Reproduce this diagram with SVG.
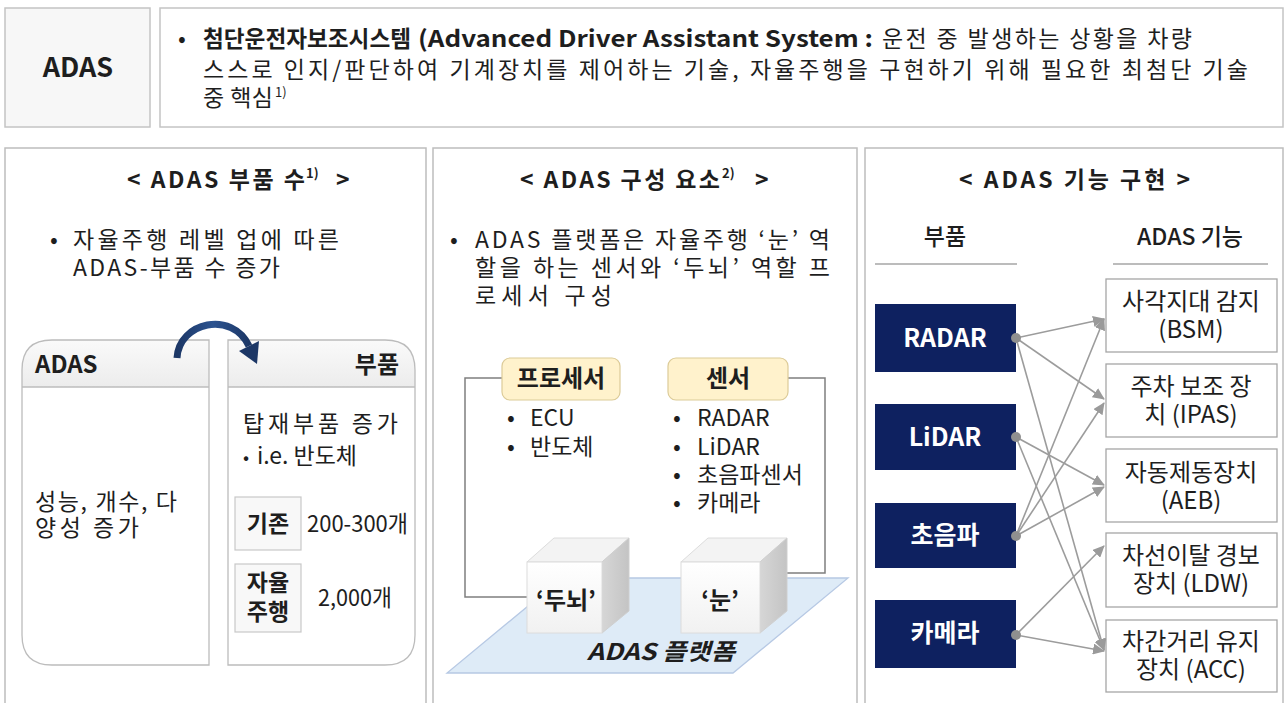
<svg xmlns="http://www.w3.org/2000/svg" width="1287" height="703" viewBox="0 0 1287 703">
  <defs>
    <style>
      text { font-family: 'Noto Sans CJK KR', 'Noto Sans', sans-serif; fill: #1e1e1e; font-size: 23px; }
      .b { font-weight: 700; }
      .m { font-weight: 500; }
      .sup { font-size: 13px; }
      .panel { fill: #ffffff; stroke: #bdbdbd; stroke-width: 1.5; }
      .hbox { stroke: #c4c4c4; stroke-width: 1.5; }
      .rbox { fill: none; stroke: #bcbcbc; stroke-width: 1.3; }
      .sep { stroke: #bcbcbc; stroke-width: 1.3; }
      .kbox { fill: #f8f8f8; stroke: #c8c8c8; stroke-width: 1.2; }
      .tag { fill: #fff2cc; stroke: #dccb98; stroke-width: 1.2; }
      .frame { fill: none; stroke: #7f7f7f; stroke-width: 1.5; }
      .navy { fill: #0e2160; }
      .navy-t { fill: #ffffff; font-weight: 700; font-size: 25px; }
      .fbox { fill: #ffffff; stroke: #a6a6a6; stroke-width: 1.3; }
      .ft { font-size: 24px; }
      .rule { stroke: #a6a6a6; stroke-width: 1.3; }
      .conn { stroke: #9c9c9c; stroke-width: 1.6; fill: none; marker-end: url(#ah); }
      .dot { fill: #8f8f8f; }
    </style>
    <marker id="ah" markerWidth="13" markerHeight="11" refX="11" refY="5.5" orient="auto" markerUnits="userSpaceOnUse">
      <path d="M0,0 L12,5.5 L0,11 z" fill="#9a9a9a"/>
    </marker>
    <linearGradient id="hdr" x1="0" y1="0" x2="0" y2="1">
      <stop offset="0" stop-color="#fafafa"/>
      <stop offset="1" stop-color="#ececec"/>
    </linearGradient>
    <linearGradient id="side" x1="0" y1="0" x2="1" y2="0">
      <stop offset="0" stop-color="#d6d6d6"/>
      <stop offset="1" stop-color="#c4c4c4"/>
    </linearGradient>
    <linearGradient id="front" x1="0" y1="0" x2="0" y2="1">
      <stop offset="0" stop-color="#ffffff"/>
      <stop offset="1" stop-color="#f1f1f1"/>
    </linearGradient>
    <linearGradient id="curl" x1="0" y1="0" x2="1" y2="0">
      <stop offset="0" stop-color="#1c3766"/>
      <stop offset="0.5" stop-color="#2c5390"/>
      <stop offset="1" stop-color="#1c3766"/>
    </linearGradient>
  </defs>

  <rect x="0" y="0" width="1287" height="703" fill="#ffffff"/>

  <!-- header: term and definition -->
  <g id="term">
    <rect class="hbox" x="5" y="8" width="145" height="119" fill="#f7f7f7"/>
    <text class="b" x="78" y="77" text-anchor="middle" style="font-size:27px">ADAS</text>
  </g>
  <g id="definition">
    <rect class="hbox" x="160" y="8" width="1123" height="119" fill="#ffffff"/>
    <text x="178" y="47">•</text>
    <text class="b" x="203" y="47" textLength="208" lengthAdjust="spacingAndGlyphs">첨단운전자보조시스템</text>
    <text class="b" x="418" y="47" textLength="455" lengthAdjust="spacingAndGlyphs">(Advanced Driver Assistant System :</text>
    <text x="882" y="47" textLength="310" lengthAdjust="spacing">운전 중 발생하는 상황을 차량</text>
    <text x="203" y="78" textLength="1045" lengthAdjust="spacing">스스로 인지/판단하여 기계장치를 제어하는 기술, 자율주행을 구현하기 위해 필요한 최첨단 기술</text>
    <text x="203" y="106" textLength="70" lengthAdjust="spacing">중 핵심</text>
    <text class="sup" x="275" y="97">1)</text>
  </g>

  <!-- panel 1: part counts -->
  <g id="panel-parts">
    <rect class="panel" x="5" y="148" width="421" height="570"/>
    <text class="b" x="127" y="188" textLength="178" lengthAdjust="spacing">&lt; ADAS 부품 수</text>
    <text class="b sup" x="306" y="178">1)</text>
    <text class="b" x="336" y="188">&gt;</text>
    <text x="50" y="248">•</text>
    <text x="73" y="248" textLength="266" lengthAdjust="spacing">자율주행 레벨 업에 따른</text>
    <text x="73" y="276" textLength="207" lengthAdjust="spacing">ADAS-부품 수 증가</text>
  </g>

  <g id="adas-card">
    <path d="M22,387 V370 Q22,340 52,340 H209 V387 Z" fill="url(#hdr)"/>
    <path class="rbox" d="M209,340 H52 Q22,340 22,370 V635 Q22,665 52,665 H209 Z"/>
    <line class="sep" x1="22" y1="387" x2="209" y2="387"/>
    <text class="b" x="35" y="373" style="font-size:24px">ADAS</text>
    <text x="35" y="510" textLength="142" lengthAdjust="spacing">성능, 개수, 다</text>
    <text x="35" y="536" textLength="104" lengthAdjust="spacing">양성 증가</text>
  </g>

  <g id="parts-card">
    <path d="M228,387 V340 H385 Q415,340 415,370 V387 Z" fill="url(#hdr)"/>
    <path class="rbox" d="M228,340 H385 Q415,340 415,370 V635 Q415,665 385,665 H228 Z"/>
    <line class="sep" x1="228" y1="387" x2="415" y2="387"/>
    <text class="b" x="399" y="373" text-anchor="end" style="font-size:24px">부품</text>
    <text x="243" y="432" textLength="155" lengthAdjust="spacing">탑재부품 증가</text>
    <text x="243" y="464" style="font-size:18px">•</text>
    <text x="257" y="464" textLength="100" lengthAdjust="spacing">i.e. 반도체</text>
    <rect class="kbox" x="235" y="497" width="66" height="53"/>
    <text class="b" x="268" y="532" text-anchor="middle">기존</text>
    <text x="307" y="532" textLength="101" lengthAdjust="spacingAndGlyphs">200-300개</text>
    <rect class="kbox" x="235" y="564" width="66" height="68"/>
    <text class="b" x="268" y="591" text-anchor="middle">자율</text>
    <text class="b" x="268" y="620" text-anchor="middle">주행</text>
    <text x="318" y="606" textLength="74" lengthAdjust="spacingAndGlyphs">2,000개</text>
  </g>

  <!-- curved arrow from ADAS card to parts card -->
  <g id="growth-arrow">
    <path d="M177,358 C179,322 232,310 249,346" fill="none" stroke="url(#curl)" stroke-width="7" stroke-linecap="butt"/>
    <path d="M239,351 L259,341 L257,364 Z" fill="#1c3766"/>
  </g>

  <!-- panel 2: components -->
  <g id="panel-components">
    <rect class="panel" x="433" y="148" width="424" height="570"/>
    <text class="b" x="520" y="188" textLength="200" lengthAdjust="spacing">&lt; ADAS 구성 요소</text>
    <text class="b sup" x="722" y="178">2)</text>
    <text class="b" x="755" y="188">&gt;</text>
    <text x="450" y="248">•</text>
    <text x="475" y="248" textLength="355" lengthAdjust="spacing">ADAS 플랫폼은 자율주행 ‘눈’ 역</text>
    <text x="475" y="276" textLength="355" lengthAdjust="spacing">할을 하는 센서와 ‘두뇌’ 역할 프</text>
    <text x="475" y="304" textLength="137" lengthAdjust="spacing">로세서 구성</text>
  </g>

  <g id="platform">
    <polygon points="562,578 848,578 733,673 447,673" fill="#deebf7" stroke="#b7c9e4" stroke-width="1.3"/>
    <text class="b" x="661" y="660" text-anchor="middle" textLength="148" lengthAdjust="spacingAndGlyphs" style="font-style:italic">ADAS 플랫폼</text>
  </g>

  <g id="brackets">
    <path class="frame" d="M502,378 H465 V597 H530"/>
    <path class="frame" d="M788,378 H825 V573 H785"/>
  </g>

  <g id="processor">
    <rect class="tag" x="502" y="358" width="118" height="42" rx="8"/>
    <text class="b" x="561" y="387" text-anchor="middle" style="font-size:24px">프로세서</text>
    <text x="507" y="426">•</text>
    <text x="530" y="426">ECU</text>
    <text x="507" y="455">•</text>
    <text x="530" y="455">반도체</text>
  </g>

  <g id="sensor">
    <rect class="tag" x="668" y="358" width="120" height="42" rx="8"/>
    <text class="b" x="728" y="387" text-anchor="middle" style="font-size:24px">센서</text>
    <text x="673" y="426">•</text>
    <text x="697" y="426">RADAR</text>
    <text x="673" y="455">•</text>
    <text x="697" y="455">LiDAR</text>
    <text x="673" y="483">•</text>
    <text x="697" y="483">초음파센서</text>
    <text x="673" y="511">•</text>
    <text x="697" y="511">카메라</text>
  </g>

  <g id="cube-brain">
    <polygon points="527,562 554,538 629,538 602,562" fill="#f3f3f3" stroke="#dcdcdc"/>
    <polygon points="602,562 629,538 629,611 602,633" fill="url(#side)" stroke="#cfcfcf"/>
    <rect x="527" y="562" width="75" height="71" fill="url(#front)" stroke="#dcdcdc"/>
    <text class="b" x="566" y="609" text-anchor="middle" style="font-size:24px">‘두뇌’</text>
  </g>

  <g id="cube-eye">
    <polygon points="681,562 708,538 787,538 760,562" fill="#f3f3f3" stroke="#dcdcdc"/>
    <polygon points="760,562 787,538 787,611 760,633" fill="url(#side)" stroke="#cfcfcf"/>
    <rect x="681" y="562" width="79" height="71" fill="url(#front)" stroke="#dcdcdc"/>
    <text class="b" x="720" y="609" text-anchor="middle" style="font-size:24px">‘눈’</text>
  </g>

  <!-- panel 3: functions -->
  <g id="panel-functions">
    <rect class="panel" x="865" y="148" width="418" height="570"/>
    <text class="b" x="959" y="188" textLength="231" lengthAdjust="spacing">&lt; ADAS 기능 구현 &gt;</text>
    <text class="m" x="945" y="245" text-anchor="middle">부품</text>
    <text class="m" x="1190" y="245" text-anchor="middle">ADAS 기능</text>
    <line class="rule" x1="875" y1="264" x2="1017" y2="264"/>
    <line class="rule" x1="1113" y1="264" x2="1268" y2="264"/>
  </g>

  <g id="radar">
    <rect class="navy" x="875" y="304" width="141" height="68"/>
    <text class="navy-t" x="945" y="347" text-anchor="middle">RADAR</text>
  </g>
  <g id="lidar">
    <rect class="navy" x="875" y="404" width="141" height="66"/>
    <text class="navy-t" x="945" y="446" text-anchor="middle">LiDAR</text>
  </g>
  <g id="ultrasonic">
    <rect class="navy" x="875" y="503" width="141" height="65"/>
    <text class="navy-t" x="945" y="544" text-anchor="middle">초음파</text>
  </g>
  <g id="camera">
    <rect class="navy" x="875" y="600" width="141" height="68"/>
    <text class="navy-t" x="945" y="642" text-anchor="middle">카메라</text>
  </g>

  <g id="bsm">
    <rect class="fbox" x="1106" y="279" width="171" height="73"/>
    <text class="ft" x="1191" y="310" text-anchor="middle">사각지대 감지</text>
    <text class="ft" x="1191" y="338" text-anchor="middle">(BSM)</text>
  </g>
  <g id="ipas">
    <rect class="fbox" x="1106" y="364" width="171" height="73"/>
    <text class="ft" x="1191" y="395" text-anchor="middle">주차 보조 장</text>
    <text class="ft" x="1191" y="423" text-anchor="middle">치 (IPAS)</text>
  </g>
  <g id="aeb">
    <rect class="fbox" x="1106" y="449" width="171" height="73"/>
    <text class="ft" x="1191" y="481" text-anchor="middle">자동제동장치</text>
    <text class="ft" x="1191" y="509" text-anchor="middle">(AEB)</text>
  </g>
  <g id="ldw">
    <rect class="fbox" x="1106" y="533" width="171" height="74"/>
    <text class="ft" x="1191" y="564" text-anchor="middle">차선이탈 경보</text>
    <text class="ft" x="1191" y="592" text-anchor="middle">장치 (LDW)</text>
  </g>
  <g id="acc">
    <rect class="fbox" x="1106" y="620" width="171" height="72"/>
    <text class="ft" x="1191" y="650" text-anchor="middle">차간거리 유지</text>
    <text class="ft" x="1191" y="678" text-anchor="middle">장치 (ACC)</text>
  </g>

  <!-- part-to-function connectors -->
  <g id="connectors">
    <line class="conn" x1="1016" y1="338" x2="1104" y2="319"/>
    <line class="conn" x1="1016" y1="338" x2="1104" y2="399"/>
    <line class="conn" x1="1016" y1="338" x2="1104" y2="650"/>
    <line class="conn" x1="1016" y1="437" x2="1104" y2="485"/>
    <line class="conn" x1="1016" y1="437" x2="1104" y2="650"/>
    <line class="conn" x1="1016" y1="536" x2="1104" y2="319"/>
    <line class="conn" x1="1016" y1="536" x2="1104" y2="403"/>
    <line class="conn" x1="1016" y1="536" x2="1104" y2="487"/>
    <line class="conn" x1="1016" y1="635" x2="1104" y2="546"/>
    <line class="conn" x1="1016" y1="635" x2="1104" y2="651"/>
    <circle class="dot" cx="1016" cy="338" r="5"/>
    <circle class="dot" cx="1016" cy="437" r="5"/>
    <circle class="dot" cx="1016" cy="536" r="5"/>
    <circle class="dot" cx="1016" cy="635" r="5"/>
  </g>
</svg>
